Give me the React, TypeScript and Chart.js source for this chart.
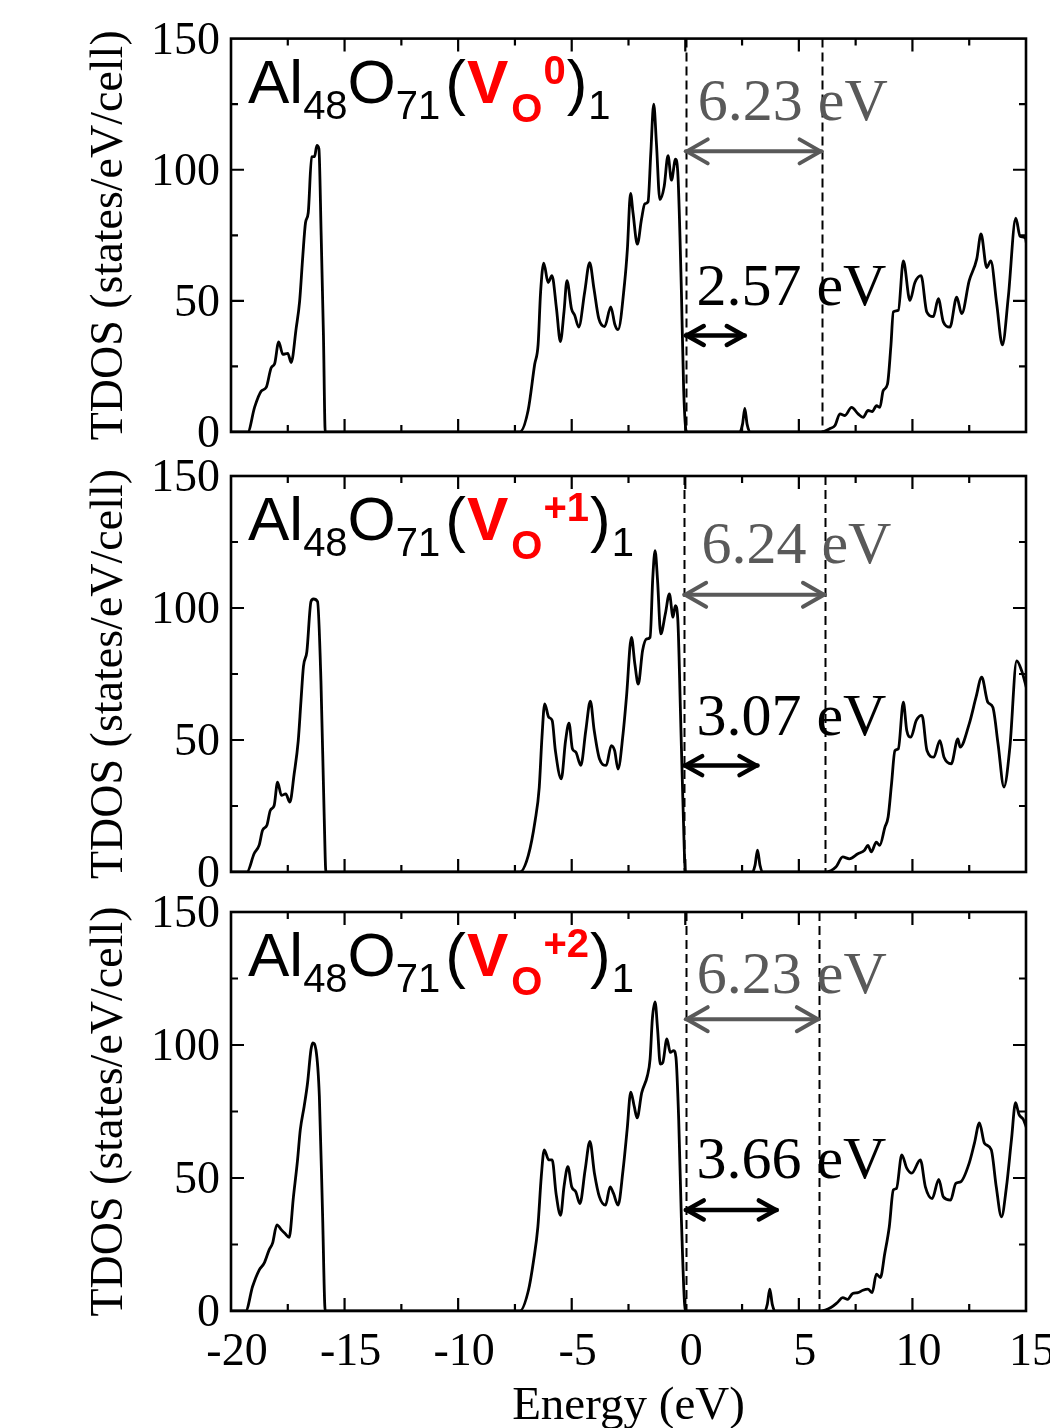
import { useEffect, useRef } from 'react';
import { Chart, registerables } from 'chart.js';

Chart.register(...registerables);

type Pt = [number, number];

const SERIF = '"Liberation Serif", "Times New Roman", serif';
const SANS = '"Liberation Sans", Arial, sans-serif';

// axis ranges and tick steps
const energyMin = -20;
const energyMax = 15;
const energyStep = 5;
const tdosMin = 0;
const tdosMax = 150;
const tdosStep = 50;

const xAxisTitle = 'Energy (eV)';
const yAxisTitle = 'TDOS (states/eV/cell)';

// TDOS curves (energy eV, states/eV/cell)
const tdosVo0: Pt[] = [
  [-20, 0], [-19.26, 0], [-18.96, 9.5], [-18.67, 15.6], [-18.45, 17], [-18.23, 24.5], [-18.08, 26],
  [-17.9, 34.4], [-17.72, 29.6], [-17.5, 30], [-17.35, 26.5], [-17.13, 39.6], [-16.98, 49.7],
  [-16.84, 67], [-16.72, 79.8], [-16.6, 83.6], [-16.45, 104.9], [-16.32, 105], [-16.22, 109.3],
  [-16.13, 108], [-16.03, 75], [-15.93, 37], [-15.85, 0],
  [-7.29, 0], [-6.92, 8.2], [-6.63, 25.8], [-6.48, 33.3], [-6.37, 53.3], [-6.23, 64.4], [-6.04, 57],
  [-5.87, 59.6], [-5.67, 47], [-5.5, 34.5], [-5.34, 45.8], [-5.21, 57.7], [-5.01, 47], [-4.87, 44.5],
  [-4.69, 40], [-4.43, 53.3], [-4.21, 64.6], [-4.02, 54.6], [-3.81, 43.3], [-3.55, 40.2], [-3.28, 47.7],
  [-3.1, 41], [-2.96, 39], [-2.67, 57], [-2.55, 69.6], [-2.41, 91], [-2.3, 83.5], [-2.11, 71.6],
  [-1.93, 81], [-1.78, 87], [-1.64, 87.8], [-1.52, 106], [-1.39, 125], [-1.27, 110], [-1.12, 88.6],
  [-0.93, 93.6], [-0.76, 105.4], [-0.61, 96], [-0.43, 104], [-0.32, 97.3], [-0.17, 53.3], [-0.07, 15.8],
  [0.05, 0],
  [2.4, 0], [2.52, 3], [2.62, 9], [2.72, 3], [2.85, 0],
  [6.0, 0], [6.37, 1.3], [6.59, 2.5], [6.81, 6.9], [7.03, 6.3], [7.32, 9.4], [7.61, 6.9], [7.83, 5.6],
  [8.05, 8.2], [8.23, 7.8], [8.42, 10], [8.57, 9.4], [8.71, 15.7], [8.9, 18.2], [9.05, 32.6],
  [9.16, 45.8], [9.38, 46.4], [9.6, 65.2], [9.89, 50.2], [10.11, 57], [10.38, 59.6], [10.63, 45.8],
  [10.92, 44], [11.14, 50.8], [11.36, 42], [11.65, 40], [11.95, 51.4], [12.17, 45.1], [12.5, 57.7],
  [12.83, 65.9], [13.02, 75.5], [13.27, 62.7], [13.45, 65.2], [13.71, 48.9], [13.96, 33.2],
  [14.22, 51.4], [14.55, 81.5], [14.74, 74.6], [14.96, 74], [15.1, 66.5],
];

const tdosVo1: Pt[] = [
  [-20, 0], [-19.3, 0], [-18.98, 7], [-18.76, 10.2], [-18.61, 15.8], [-18.42, 17.7], [-18.27, 23.3],
  [-18.1, 25.2], [-17.95, 34], [-17.78, 29], [-17.59, 29.6], [-17.41, 26.5], [-17.22, 37.1],
  [-17.04, 49.7], [-16.92, 64.7], [-16.81, 77.9], [-16.66, 83.5], [-16.48, 102.4], [-16.37, 103.4],
  [-16.19, 102.4], [-16.04, 72.3], [-15.9, 22.1], [-15.82, 0],
  [-7.28, 0], [-6.91, 6.3], [-6.61, 19.5], [-6.43, 32], [-6.31, 51], [-6.19, 63.7], [-6.01, 58.6],
  [-5.86, 57.4], [-5.72, 46], [-5.46, 35.3], [-5.27, 49.8], [-5.12, 56.4], [-4.97, 46.7], [-4.82, 45.4],
  [-4.6, 40.4], [-4.38, 53.6], [-4.18, 64.7], [-4.01, 53.6], [-3.78, 42.9], [-3.48, 40.4], [-3.26, 47.9],
  [-3.11, 46], [-2.96, 39], [-2.74, 52.3], [-2.59, 66.2], [-2.37, 88.9], [-2.22, 78.8], [-2.07, 71.2],
  [-1.88, 83.9], [-1.7, 88.3], [-1.55, 88.9], [-1.43, 111.6], [-1.33, 121.7], [-1.22, 110.3],
  [-1.08, 90.2], [-0.88, 97.7], [-0.7, 105.3], [-0.54, 96.5], [-0.44, 100.9], [-0.33, 95.8],
  [-0.21, 59.9], [-0.11, 28.4], [0.01, 0],
  [2.95, 0], [3.07, 2.5], [3.18, 8.3], [3.29, 2.5], [3.42, 0],
  [6.18, 0], [6.63, 1.9], [6.93, 5.7], [7.22, 5], [7.6, 6.9], [7.89, 8.2], [8.04, 10.1], [8.19, 7.6],
  [8.41, 11.3], [8.56, 10.1], [8.79, 17], [8.93, 20.8], [9.08, 33.4], [9.23, 46], [9.38, 46.7],
  [9.6, 64.3], [9.75, 53.6], [9.93, 51.1], [10.17, 57.4], [10.42, 59.3], [10.64, 46], [10.94, 43.5],
  [11.21, 49.8], [11.39, 43.5], [11.71, 41], [12.0, 50.4], [12.1, 47.3], [12.5, 56.1], [12.8, 66.2],
  [13.05, 73.8], [13.32, 64.3], [13.54, 62.4], [13.77, 48.5], [14.03, 32.2], [14.29, 47.3],
  [14.59, 80], [14.81, 76.2], [15.03, 69.4],
];

const tdosVo2: Pt[] = [
  [-20, 0], [-19.35, 0], [-19.05, 9.2], [-18.76, 15.4], [-18.54, 18], [-18.32, 23], [-18.17, 25.5],
  [-17.98, 32.4], [-17.78, 30.5], [-17.63, 29.2], [-17.44, 27.7], [-17.25, 43], [-17.07, 56.8],
  [-16.95, 68.1], [-16.78, 76.9], [-16.63, 85.7], [-16.48, 98.2], [-16.4, 100.8], [-16.26, 98.2],
  [-16.11, 80.7], [-15.97, 36.8], [-15.85, 0],
  [-7.28, 0], [-6.91, 7.6], [-6.68, 18.9], [-6.49, 31.6], [-6.34, 50.5], [-6.21, 60.6], [-6.01, 56.8],
  [-5.86, 56.8], [-5.69, 44.2], [-5.49, 36], [-5.34, 46.7], [-5.17, 54.3], [-5.0, 46.7], [-4.82, 44.8],
  [-4.64, 40.4], [-4.41, 53], [-4.2, 63.8], [-4.0, 51.8], [-3.78, 42.9], [-3.51, 39.8], [-3.31, 46.7],
  [-3.16, 44.2], [-2.96, 39.8], [-2.74, 53], [-2.56, 68.2], [-2.4, 82.3], [-2.25, 77], [-2.12, 72.6],
  [-1.92, 82], [-1.67, 88.4], [-1.55, 94.7], [-1.45, 109.8], [-1.33, 116.2], [-1.22, 106],
  [-1.1, 92.8], [-0.99, 93.4], [-0.81, 102.3], [-0.66, 97.2], [-0.51, 97.9], [-0.41, 95.3],
  [-0.29, 72], [-0.17, 34.1], [0.01, 0],
  [3.5, 0], [3.61, 2.5], [3.72, 8.2], [3.83, 2.5], [3.95, 0],
  [5.96, 0], [6.41, 1.3], [6.7, 3.2], [6.93, 5], [7.15, 4.4], [7.37, 6.6], [7.6, 6.9], [7.82, 7.8],
  [8.04, 8.2], [8.23, 6.9], [8.41, 13.9], [8.59, 12.6], [8.78, 21.5], [8.98, 31.6], [9.16, 45.5],
  [9.3, 46.1], [9.53, 58.7], [9.75, 53.7], [9.97, 51.8], [10.35, 56.8], [10.57, 46.7], [10.87, 42.3],
  [11.16, 49.5], [11.36, 42.9], [11.68, 41.7], [11.91, 48], [12.13, 48.6], [12.5, 55.6], [12.73, 63.1],
  [12.95, 70.7], [13.17, 63.1], [13.47, 60.6], [13.69, 46.7], [13.92, 35.4], [14.14, 46.7],
  [14.36, 64.4], [14.54, 78.3], [14.69, 73.9], [14.88, 72], [15.1, 66.9],
];

const panelCurves: Pt[][] = [tdosVo0, tdosVo1, tdosVo2];

// annotations
const vacancyCharges = ['0', '+1', '+2'];
const vbmEnergy = [0.02, -0.05, 0.02];
const cbmEnergy = [6.0, 6.15, 5.88];
const gapLabels = ['6.23 eV', '6.24 eV', '6.23 eV'];
const defectLabels = ['2.57 eV', '3.07 eV', '3.66 eV'];
const defectArrowEnd = [2.62, 3.18, 4.03];

// annotation placement in data units
const gapArrowTdos = [107, 105, 109.7];
const gapLabelAt: Pt[] = [[0.55, 119], [0.71, 117], [0.51, 119.5]];
const defectArrowTdos = [36.8, 40.3, 38];
const defectLabelAt: Pt[] = [[0.49, 48.5], [0.49, 51.9], [0.49, 50]];

// canvas placement (page pixels)
const canvasLayout = [
  { top: 0, height: 492, padTop: 34, padBottom: 60, showX: false },
  { top: 416, height: 516, padTop: 60, padBottom: 60, showX: false },
  { top: 852, height: 576, padTop: 60, padBottom: 0, showX: true },
];

function drawDoubleArrow(
  ctx: CanvasRenderingContext2D, x1: number, x2: number, y: number,
  color: string, lw: number, headLen: number, headHalf: number,
) {
  ctx.save();
  ctx.strokeStyle = color;
  ctx.lineWidth = lw;
  ctx.lineCap = 'round';
  ctx.lineJoin = 'round';
  ctx.beginPath();
  ctx.moveTo(x1, y);
  ctx.lineTo(x2, y);
  ctx.stroke();
  ctx.beginPath();
  ctx.moveTo(x1 + headLen, y - headHalf);
  ctx.lineTo(x1 + 1, y);
  ctx.lineTo(x1 + headLen, y + headHalf);
  ctx.moveTo(x2 - headLen, y - headHalf);
  ctx.lineTo(x2 - 1, y);
  ctx.lineTo(x2 - headLen, y + headHalf);
  ctx.stroke();
  ctx.restore();
}

function drawFormula(ctx: CanvasRenderingContext2D, x0: number, base: number, charge: string) {
  const RED = '#ff0000';
  const parts = [
    { t: 'Al', s: 62, dy: 0, c: '#000', b: false, pre: 0 },
    { t: '48', s: 40, dy: 16, c: '#000', b: false, pre: 0 },
    { t: 'O', s: 62, dy: 0, c: '#000', b: false, pre: 0 },
    { t: '71', s: 40, dy: 16, c: '#000', b: false, pre: 0 },
    { t: '(', s: 62, dy: 0, c: '#000', b: false, pre: 5 },
    { t: 'V', s: 62, dy: 0, c: RED, b: true, pre: 1 },
    { t: 'O', s: 40, dy: 19, c: RED, b: true, pre: 3 },
    { t: charge, s: 40, dy: -19, c: RED, b: true, pre: 1 },
    { t: ')', s: 62, dy: 0, c: '#000', b: false, pre: 1 },
    { t: '1', s: 40, dy: 16, c: '#000', b: false, pre: 1 },
  ];
  ctx.save();
  ctx.textAlign = 'left';
  ctx.textBaseline = 'alphabetic';
  let x = x0;
  for (const p of parts) {
    x += p.pre;
    ctx.font = `${p.b ? 'bold ' : ''}${p.s}px ${SANS}`;
    ctx.fillStyle = p.c;
    ctx.fillText(p.t, x, base + p.dy);
    x += ctx.measureText(p.t).width;
  }
  ctx.restore();
}

const panelDecor = {
  id: 'panelDecor',
  afterDraw(chart: any, _args: any, opts: any) {
    const i: number = opts.index;
    const { ctx, chartArea: a } = chart;
    const xs = chart.scales.x;
    const ys = chart.scales.y;
    ctx.save();

    // band-edge dashed lines
    ctx.strokeStyle = '#000';
    ctx.lineWidth = 2;
    ctx.setLineDash([9, 5]);
    [vbmEnergy[i], cbmEnergy[i]].forEach((e) => {
      const px = Math.round(xs.getPixelForValue(e)) + 0.5;
      ctx.beginPath();
      ctx.moveTo(px, a.top);
      ctx.lineTo(px, a.bottom);
      ctx.stroke();
    });
    ctx.setLineDash([]);

    // frame
    ctx.lineWidth = 2.6;
    ctx.strokeRect(a.left, a.top, a.right - a.left, a.bottom - a.top);

    // inward ticks on all four sides
    const MAJ = 13;
    const MIN = 7;
    ctx.lineWidth = 2.2;
    ctx.beginPath();
    const xv: number[] = xs.ticks.map((t: any) => t.value);
    const xStep = xv.length > 1 ? xv[1] - xv[0] : energyStep;
    xv.forEach((v) => {
      const marks: [number, number][] = [[v, MAJ]];
      if (v + xStep / 2 < xs.max) marks.push([v + xStep / 2, MIN]);
      marks.forEach(([val, len]) => {
        const px = xs.getPixelForValue(val);
        if (px <= a.left + 1 || px >= a.right - 1) return;
        ctx.moveTo(px, a.bottom);
        ctx.lineTo(px, a.bottom - len);
        ctx.moveTo(px, a.top);
        ctx.lineTo(px, a.top + len);
      });
    });
    const yv: number[] = ys.ticks.map((t: any) => t.value);
    const yStep = yv.length > 1 ? yv[1] - yv[0] : tdosStep;
    yv.forEach((v) => {
      const marks: [number, number][] = [[v, MAJ]];
      if (v + yStep / 2 < ys.max) marks.push([v + yStep / 2, MIN]);
      marks.forEach(([val, len]) => {
        const py = ys.getPixelForValue(val);
        if (py <= a.top + 1 || py >= a.bottom - 1) return;
        ctx.moveTo(a.left, py);
        ctx.lineTo(a.left + len, py);
        ctx.moveTo(a.right, py);
        ctx.lineTo(a.right - len, py);
      });
    });
    ctx.stroke();

    // band gap arrow + label
    const vbmPx = xs.getPixelForValue(vbmEnergy[i]);
    const cbmPx = xs.getPixelForValue(cbmEnergy[i]);
    drawDoubleArrow(ctx, vbmPx, cbmPx, ys.getPixelForValue(gapArrowTdos[i]), '#595959', 4, 22, 12);
    ctx.font = `60px ${SERIF}`;
    ctx.textAlign = 'left';
    ctx.textBaseline = 'alphabetic';
    ctx.fillStyle = '#595959';
    ctx.fillText(gapLabels[i], xs.getPixelForValue(gapLabelAt[i][0]), ys.getPixelForValue(gapLabelAt[i][1]));

    // defect level arrow + label
    drawDoubleArrow(ctx, vbmPx, xs.getPixelForValue(defectArrowEnd[i]), ys.getPixelForValue(defectArrowTdos[i]), '#000', 4.5, 18, 9.5);
    ctx.fillStyle = '#000';
    ctx.fillText(defectLabels[i], xs.getPixelForValue(defectLabelAt[i][0]), ys.getPixelForValue(defectLabelAt[i][1]));

    // composition label
    drawFormula(ctx, a.left + 17, a.top + 64, vacancyCharges[i]);

    ctx.restore();
  },
};

function makeConfig(i: number): any {
  const lay = canvasLayout[i];
  const tickFont = { family: SERIF, size: 46 };
  return {
    type: 'line',
    data: {
      datasets: [
        {
          data: panelCurves[i].map(([x, y]) => ({ x, y })),
          borderColor: '#000',
          borderWidth: 2.8,
          pointRadius: 0,
          fill: false,
          cubicInterpolationMode: 'monotone',
        },
      ],
    },
    options: {
      animation: false,
      responsive: false,
      maintainAspectRatio: false,
      devicePixelRatio: 1,
      events: [],
      layout: { padding: { left: 0, right: 24, top: lay.padTop, bottom: lay.padBottom } },
      plugins: {
        legend: { display: false },
        tooltip: { enabled: false },
        title: { display: false },
        panelDecor: { index: i },
      },
      scales: {
        x: {
          type: 'linear',
          min: energyMin,
          max: energyMax,
          ticks: {
            stepSize: energyStep,
            display: lay.showX,
            font: tickFont,
            color: '#000',
            padding: 14,
            labelOffset: 6,
            maxRotation: 0,
            autoSkip: false,
          },
          grid: { display: false, drawTicks: false },
          border: { display: false },
          title: {
            display: lay.showX,
            text: xAxisTitle,
            font: { family: SERIF, size: 47 },
            color: '#000',
            padding: { top: 0, bottom: -7 },
          },
          afterFit: (s: any) => {
            s.height = lay.showX ? 117 : 0;
            s.paddingLeft = 0;
            s.paddingRight = 0;
          },
        },
        y: {
          type: 'linear',
          min: tdosMin,
          max: tdosMax,
          ticks: {
            stepSize: tdosStep,
            font: tickFont,
            color: '#000',
            padding: 11,
            labelOffset: 3,
          },
          grid: { display: false, drawTicks: false },
          border: { display: false },
          title: {
            display: true,
            text: yAxisTitle,
            font: { family: SERIF, size: 46 },
            color: '#000',
            padding: { top: 82, bottom: 0 },
          },
          afterFit: (s: any) => {
            s.width = 231;
          },
        },
      },
    },
    plugins: [panelDecor],
  };
}

export default function App() {
  const canvases = useRef<(HTMLCanvasElement | null)[]>([]);

  useEffect(() => {
    const charts = canvasLayout.map((_, i) => new Chart(canvases.current[i] as HTMLCanvasElement, makeConfig(i)));
    return () => charts.forEach((c) => c.destroy());
  }, []);

  return (
    <div
      style={{
        position: 'absolute',
        left: 0,
        top: 0,
        width: 1050,
        height: 1428,
        overflow: 'hidden',
        background: '#fff',
      }}
    >
      {canvasLayout.map((l, i) => (
        <canvas
          key={i}
          ref={(el) => {
            canvases.current[i] = el;
          }}
          width={1050}
          height={l.height}
          style={{ position: 'absolute', left: 0, top: l.top, width: 1050, height: l.height }}
        />
      ))}
    </div>
  );
}
